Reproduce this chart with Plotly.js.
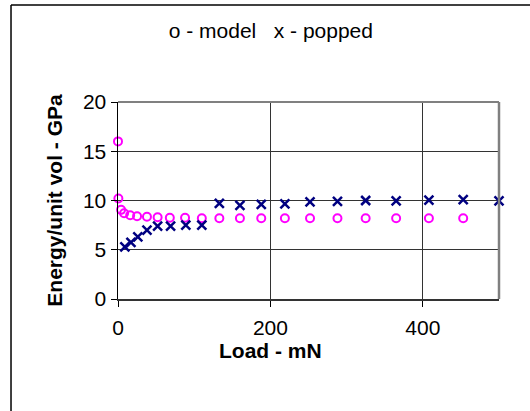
<!DOCTYPE html>
<html>
<head>
<meta charset="utf-8">
<script src="https://cdn.plot.ly/plotly-3.0.1.min.js"></script>
<style>html,body{margin:0;padding:0;background:#fff;}#chart{width:530px;height:411px;}</style>
</head>
<body>
<div id="chart"></div>
<script>
// Data
const modelLoad = [0, 0.5, 4, 8, 16, 25, 38, 52, 68, 88, 110, 133, 160, 188, 219, 252, 288, 325, 365, 408, 453];
const modelEnergy = [16.0, 10.2, 9.05, 8.7, 8.5, 8.4, 8.35, 8.3, 8.25, 8.25, 8.2, 8.2, 8.2, 8.2, 8.2, 8.2, 8.2, 8.2, 8.2, 8.2, 8.2];
const poppedLoad = [9, 17, 26, 38, 52, 69, 89, 110, 133, 160, 188, 219, 252, 288, 325, 365, 408, 453, 500];
const poppedEnergy = [5.3, 5.75, 6.3, 7.0, 7.4, 7.4, 7.5, 7.5, 9.7, 9.5, 9.6, 9.65, 9.85, 9.9, 10.0, 9.95, 10.05, 10.1, 9.95];
const chartTitle = "o - model   x - popped";
const xTitle = "Load - mN";
const yTitle = "Energy/unit vol - GPa";

const font = "Arial, 'Liberation Sans', sans-serif";

const traces = [
  {
    x: modelLoad, y: modelEnergy, type: "scatter", mode: "markers", name: "model",
    marker: {symbol: "circle-open", size: 8, color: "#FF00FF", line: {width: 2, color: "#FF00FF"}},
    cliponaxis: false
  },
  {
    x: poppedLoad, y: poppedEnergy, type: "scatter", mode: "markers", name: "popped",
    marker: {symbol: "x-thin", size: 9, color: "#000080", line: {width: 2.5, color: "#000080"}},
    cliponaxis: false
  }
];

const layout = {
  width: 530, height: 411,
  margin: {l: 118, r: 31, t: 102, b: 112, pad: 0},
  paper_bgcolor: "#ffffff", plot_bgcolor: "#ffffff",
  showlegend: false,
  font: {family: font, size: 21, color: "#000"},
  title: {text: chartTitle, font: {family: font, size: 21, color: "#000"}, xref: "container", x: 0.511, xanchor: "center", yref: "container", y: 0.925, yanchor: "middle"},
  xaxis: {
    range: [0, 500], dtick: 200, tick0: 0,
    showgrid: true, gridcolor: "#333333", gridwidth: 1,
    showline: true, linecolor: "#333333", linewidth: 1.5,
    ticks: "outside", ticklen: 6, tickcolor: "#000", tickwidth: 1,
    ticklabelstandoff: 3,
    zeroline: false, tickfont: {family: font, size: 21, color: "#000"}
  },
  yaxis: {
    range: [0, 20], dtick: 5, tick0: 0,
    showgrid: true, gridcolor: "#333333", gridwidth: 1,
    showline: true, linecolor: "#000", linewidth: 1.5,
    ticks: "outside", ticklen: 6, tickcolor: "#000", tickwidth: 1,
    zeroline: false, tickfont: {family: font, size: 21, color: "#000"},
    title: {text: "<b>" + yTitle + "</b>", font: {family: font, size: 21, color: "#000"}, standoff: 14}
  },
  annotations: [
    {text: "<b>" + xTitle + "</b>", xref: "paper", yref: "paper", x: 0.399, y: -0.262, xanchor: "center", yanchor: "middle", showarrow: false, font: {family: font, size: 21, color: "#000"}}
  ],
  shapes: [
    // plot area top and right border (grey)
    {type: "line", xref: "paper", yref: "paper", x0: 0, x1: 1, y0: 1, y1: 1, line: {color: "#808080", width: 2}},
    {type: "line", xref: "paper", yref: "paper", x0: 1, x1: 1, y0: 0, y1: 1, line: {color: "#808080", width: 2.5}},
    // outer chart frame (left and top, extends past the window)
    {type: "line", xref: "paper", yref: "paper", x0: -0.2808, x1: -0.2808, y0: -0.7, y1: 1.4924, line: {color: "#000", width: 1.5}},
    {type: "line", xref: "paper", yref: "paper", x0: -0.2808, x1: 1.2, y0: 1.4924, y1: 1.4924, line: {color: "#000", width: 1.5}}
  ]
};

Plotly.newPlot("chart", traces, layout, {displayModeBar: false, staticPlot: true});
</script>
</body>
</html>
